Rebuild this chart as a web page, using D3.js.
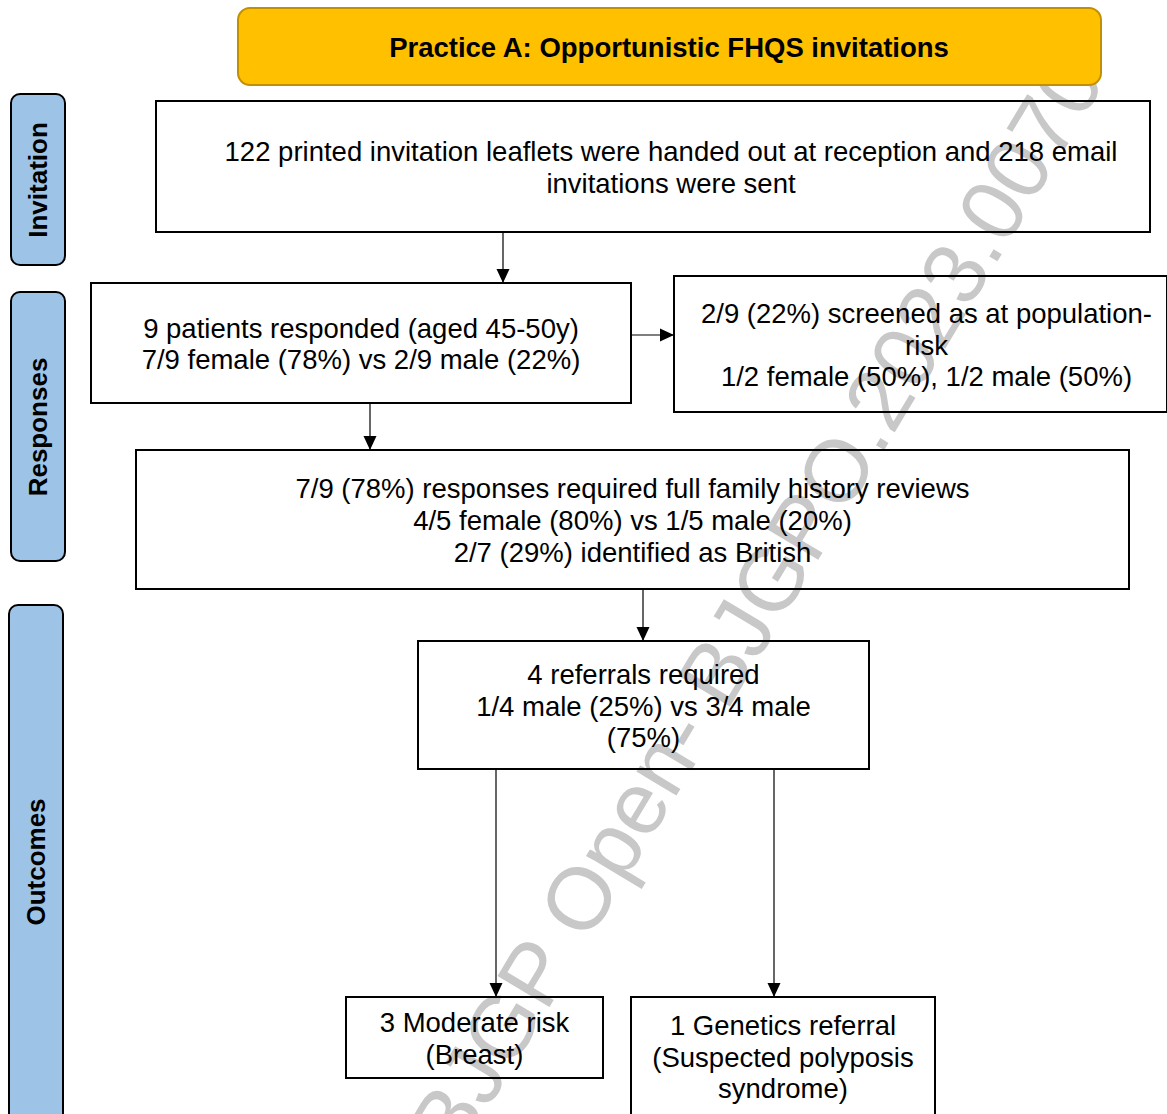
<!DOCTYPE html>
<html lang="en">
<head>
  <meta charset="UTF-8">
  <title>Practice A: Opportunistic FHQS invitations</title>
  <script src="https://d3js.org/d3.v7.min.js"></script>
  <style>
    body { margin: 0; background: #fff; }
    svg text { font-family: "Liberation Sans", Arial, sans-serif; }
    .box { fill: none; stroke: #000; stroke-width: 2; }
    .stage { fill: #9dc3e6; stroke: #000; stroke-width: 2; }
    .link { stroke: #000; stroke-width: 1.2; fill: none; }
  </style>
</head>
<body>
  <svg id="chart" width="1167" height="1114"></svg>

  <script>
    // chart content
    const title = "Practice A: Opportunistic FHQS invitations";
    const stages = ["Invitation", "Responses", "Outcomes"];
    const boxTexts = [
      ["122 printed invitation leaflets were handed out at reception and 218 email", "invitations were sent"],
      ["9 patients responded (aged 45-50y)", "7/9 female (78%) vs 2/9 male (22%)"],
      ["2/9 (22%) screened as at population-", "risk", "1/2 female (50%), 1/2 male (50%)"],
      ["7/9 (78%) responses required full family history reviews", "4/5 female (80%) vs 1/5 male (20%)", "2/7 (29%) identified as British"],
      ["4 referrals required", "1/4 male (25%) vs 3/4 male", "(75%)"],
      ["3 Moderate risk", "(Breast)"],
      ["1 Genetics referral", "(Suspected polyposis", "syndrome)"]
    ];
    const links = [[0, 1], [1, 2], [1, 3], [3, 4], [4, 5], [4, 6]];
    const watermark = "BJGP Open- BJGPO.2023.0070";

    // layout (pixels)
    const stageLayout = [
      { x: 11, y: 94, w: 54, h: 171, cy: 180 },
      { x: 11, y: 292, w: 54, h: 269, cy: 427 },
      { x: 9, y: 605, w: 54, h: 530, cy: 862 }
    ];
    const boxLayout = [
      { x: 156, y: 101, w: 994, h: 131, dx: 18, dy: 0 },
      { x: 91, y: 283, w: 540, h: 120, dx: 0, dy: 0 },
      { x: 674, y: 276, w: 493, h: 136, dx: 6, dy: 0 },
      { x: 136, y: 450, w: 993, h: 139, dx: 0, dy: 0 },
      { x: 418, y: 641, w: 451, h: 128, dx: 0, dy: 0 },
      { x: 346, y: 997, w: 257, h: 81, dx: 0, dy: 0 },
      { x: 631, y: 997, w: 304, h: 130, dx: 0, dy: -6 }
    ];
    // connector anchor: x for vertical, y for horizontal
    const linkLayout = [
      { dir: "v", at: 503 },
      { dir: "h", at: 335 },
      { dir: "v", at: 370 },
      { dir: "v", at: 643 },
      { dir: "v", at: 496 },
      { dir: "v", at: 774 }
    ];

    const fontSize = 27.5;
    const lineH = 31.6;
    const svg = d3.select("#chart");

    svg.append("defs").append("marker")
      .attr("id", "arrow")
      .attr("viewBox", "0 0 14 14")
      .attr("refX", 14).attr("refY", 7)
      .attr("markerWidth", 14).attr("markerHeight", 14)
      .attr("markerUnits", "userSpaceOnUse")
      .attr("orient", "auto")
      .append("path")
      .attr("d", "M0,0.5 L14,7 L0,13.5 Z")
      .attr("fill", "#000");

    // watermark sits behind everything
    svg.append("text")
      .attr("transform", "translate(756,604) rotate(-59)")
      .attr("text-anchor", "middle")
      .attr("dominant-baseline", "central")
      .attr("font-size", 88)
      .attr("fill", "#c8c8c8")
      .text(watermark);

    // header
    svg.append("rect")
      .attr("x", 238).attr("y", 8).attr("width", 863).attr("height", 77)
      .attr("rx", 12)
      .attr("fill", "#ffc000").attr("stroke", "#c09000").attr("stroke-width", 2);
    svg.append("text")
      .attr("x", 669).attr("y", 57)
      .attr("text-anchor", "middle")
      .attr("font-size", fontSize).attr("font-weight", "bold")
      .text(title);

    // stage labels
    const st = svg.selectAll(".stage-g")
      .data(stages)
      .enter().append("g")
      .attr("class", "stage-g");
    st.append("rect")
      .attr("class", "stage")
      .attr("x", (d, i) => stageLayout[i].x)
      .attr("y", (d, i) => stageLayout[i].y)
      .attr("width", (d, i) => stageLayout[i].w)
      .attr("height", (d, i) => stageLayout[i].h)
      .attr("rx", 9);
    st.append("text")
      .attr("transform", (d, i) => `translate(${stageLayout[i].x + stageLayout[i].w / 2 + 9},${stageLayout[i].cy}) rotate(-90)`)
      .attr("text-anchor", "middle")
      .attr("font-size", 26).attr("font-weight", "bold")
      .text(d => d);

    // connectors
    links.forEach(([a, b], i) => {
      const A = boxLayout[a], B = boxLayout[b], L = linkLayout[i];
      const line = svg.append("line").attr("class", "link").attr("marker-end", "url(#arrow)");
      if (L.dir === "v") {
        line.attr("x1", L.at).attr("x2", L.at).attr("y1", A.y + A.h).attr("y2", B.y);
      } else {
        line.attr("y1", L.at).attr("y2", L.at).attr("x1", A.x + A.w).attr("x2", B.x);
      }
    });

    // boxes
    const bx = svg.selectAll(".node")
      .data(boxTexts)
      .enter().append("g")
      .attr("class", "node");
    bx.append("rect")
      .attr("class", "box")
      .attr("x", (d, i) => boxLayout[i].x)
      .attr("y", (d, i) => boxLayout[i].y)
      .attr("width", (d, i) => boxLayout[i].w)
      .attr("height", (d, i) => boxLayout[i].h);
    bx.each(function(lines, i) {
      const b = boxLayout[i];
      const cx = b.x + b.w / 2 + b.dx;
      const cy = b.y + b.h / 2 + 1 + b.dy;
      const t = d3.select(this).append("text")
        .attr("text-anchor", "middle")
        .attr("font-size", fontSize);
      lines.forEach((ln, k) => {
        t.append("tspan")
          .attr("x", cx)
          .attr("y", cy + (k - (lines.length - 1) / 2) * lineH + 9.5)
          .text(ln);
      });
    });
  </script>
</body>
</html>
